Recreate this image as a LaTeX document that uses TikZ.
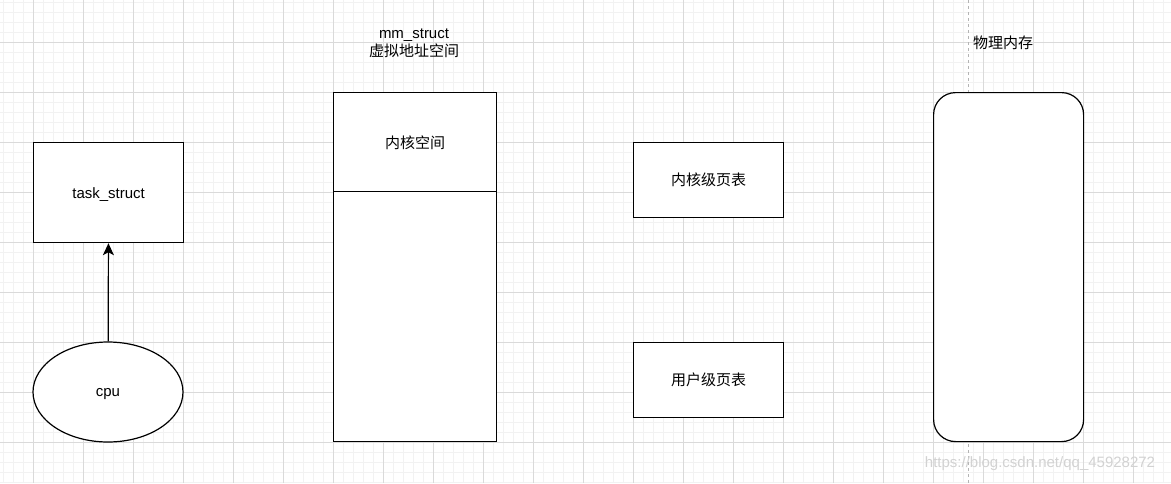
\documentclass[tikz,border=0pt]{standalone}
\usepackage{fontspec}
\setmainfont{Liberation Sans}
\newfontfamily\cjk{Noto Sans CJK SC}
\usepackage{xcolor}
\definecolor{GridMinor}{HTML}{F2F2F2}
\definecolor{GridMajor}{HTML}{DADADA}
\definecolor{GuideGray}{HTML}{B4B4B4}
\definecolor{MarkGray}{HTML}{D2D2D2}
\usetikzlibrary{arrows.meta, positioning, shapes.geometric}

\newcommand{\lowered}[1]{\raisebox{-2pt}[\height][\depth]{#1}}

\begin{document}
\begin{tikzpicture}[x=1pt, y=-1pt, font=\fontsize{15}{17}\selectfont,
    box/.style={draw, line width=1.2pt, fill=white, inner sep=0pt, anchor=north west},
    label/.style={inner sep=0pt, align=center}]

    \useasboundingbox (0,0) rectangle (1171,483);
    \fill[white] (0,0) rectangle (1171,483);

    % 1. DRAWING GRID
    \foreach \gx in {3,13,...,1171} {
        \draw[GridMinor, line width=1pt] (\gx,0) -- (\gx,483);
    }
    \foreach \gy in {2,12,...,483} {
        \draw[GridMinor, line width=1pt] (0,\gy) -- (1171,\gy);
    }
    \foreach \gx in {33,83,...,1171} {
        \draw[GridMajor, line width=1pt] (\gx,0) -- (\gx,483);
    }
    \foreach \gy in {42,92,...,483} {
        \draw[GridMajor, line width=1pt] (0,\gy) -- (1171,\gy);
    }

    % 2. GUIDE LINE
    \coordinate (guidetop) at (968,0);
    \coordinate (guidebot) at (968,483);
    \draw[GuideGray, line width=1pt, dash pattern=on 3pt off 3pt] (guidetop) -- (guidebot);

    % 3. PROCESS SIDE
    \node[box, minimum width=150pt, minimum height=100pt] (task) at (33,142) {\lowered{task\_struct}};
    \node[draw, line width=1.2pt, fill=white, ellipse, minimum width=150pt, minimum height=100pt] (cpu) at (108,392) {\lowered{cpu}};
    \draw[-{Stealth[length=12pt, width=11pt, inset=3pt]}, line width=1.2pt] (cpu) -- (task);

    % 4. VIRTUAL ADDRESS SPACE
    \node[label] (mmlabel) at (414,43) {mm\_struct\\[1pt]{\cjk 虚拟地址空间}};
    \node[box, minimum width=163pt, minimum height=100pt] (kspace) at (333,92) {\cjk 内核空间};
    \node[box, minimum width=163pt, minimum height=250pt] (uspace) at (333,191) {};

    % 5. PAGE TABLES
    \node[box, minimum width=150pt, minimum height=75pt] (kpt) at (633,142) {\cjk 内核级页表};
    \node[box, minimum width=150pt, minimum height=75pt] (upt) at (633,342) {\cjk 用户级页表};

    % 6. PHYSICAL MEMORY
    \node[label] (physlabel) at (1003,43) {\cjk 物理内存};
    \node[box, rounded corners=22pt, minimum width=150pt, minimum height=349pt] (phys) at (933,92) {};

    \node[label, text=MarkGray] (mark) at (1040,464) {https://blog.csdn.net/qq\_45928272};

\end{tikzpicture}
\end{document}
